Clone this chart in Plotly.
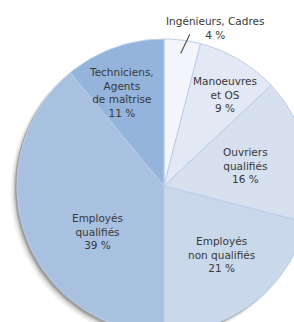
import numpy as np
import plotly.graph_objects as go

# ---- data ----
categories = ["Ingénieurs, Cadres", "Manoeuvres<br>et OS", "Ouvriers<br>qualifiés",
              "Employés<br>non qualifiés", "Employés<br>qualifiés",
              "Techniciens,<br>Agents<br>de maîtrise"]
values = [4, 9, 16, 21, 39, 11]

# ---- style ----
colors = ["#f3f5fa", "#e2e8f4", "#d7e0ee", "#cad8eb", "#a9c1e1", "#95b4dc"]
edge_color = "#bccfe8"
text_color = "#383838"
FONT = "DejaVu Sans"
W, H = 294, 322
cx, cy, R = 164, 186, 147          # pie centre / radius in pixel units of the axes
label_r = [None, 0.745, 0.57, 0.61, 0.55, 0.70]      # label distance (fraction of R)
label_dtheta = [0, 3.2, 0.0, -2.2, -14.7, -4.3]       # label angle shift (deg)

total = float(sum(values))
cum = np.concatenate([[0.0], np.cumsum(values)]) / total * 360.0   # clockwise from 12 o'clock


def pt(theta_deg, rad, x0=cx, y0=cy):
    t = np.deg2rad(theta_deg)
    return x0 + rad * np.sin(t), y0 - rad * np.cos(t)


fig = go.Figure()

# soft drop shadow (lower-left)
full = np.linspace(0, 360, 181)
for dx, dy, dr, a in [(-5, 5, 1.5, 0.06), (-4, 4, 0.5, 0.10), (-3, 3, 0, 0.16), (-2, 2, 0, 0.22)]:
    xs, ys = pt(full, R + dr, cx + dx, cy + dy)
    fig.add_trace(go.Scatter(x=xs, y=ys, mode="lines", fill="toself",
                             fillcolor=f"rgba(40,40,40,{a})", line=dict(width=0),
                             hoverinfo="skip", showlegend=False))

# slices
for i, v in enumerate(values):
    a0, a1 = cum[i], cum[i + 1]
    arc = np.linspace(a0, a1, max(3, int((a1 - a0) / 2) + 2))
    ax_, ay_ = pt(arc, R)
    xs = np.concatenate([[cx], ax_, [cx]])
    ys = np.concatenate([[cy], ay_, [cy]])
    name = categories[i].replace("<br>", " ")
    fig.add_trace(go.Scatter(x=xs, y=ys, mode="lines", fill="toself",
                             fillcolor=colors[i], line=dict(color=edge_color, width=1),
                             name=name, text=f"{name}: {v} %", hoverinfo="text",
                             hoveron="fills", showlegend=False))

# inside labels
for i, v in enumerate(values):
    if label_r[i] is None:
        continue
    mid = (cum[i] + cum[i + 1]) / 2 + label_dtheta[i]
    lx, ly = pt(mid, label_r[i] * R)
    fig.add_annotation(x=lx, y=ly, xref="x", yref="y", showarrow=False,
                       text=f"{categories[i]}<br>{v} %",
                       font=dict(family=FONT, size=10.5, color=text_color))

# outside label for the small slice, with a leader line
mid0 = (cum[0] + cum[1]) / 2
tipx, tipy = pt(mid0, 0.91 * R)
fig.add_annotation(x=tipx + 34, y=tipy - 25, xref="x", yref="y", showarrow=False,
                   text=f"{categories[0]}<br>{values[0]} %",
                   font=dict(family=FONT, size=10.5, color=text_color))
fig.add_annotation(x=tipx, y=tipy, xref="x", yref="y", text=" ", showarrow=True,
                   ax=10, ay=-21, arrowhead=0, arrowwidth=1.2, arrowcolor="#555555",
                   standoff=0, startstandoff=0, font=dict(size=1))

fig.update_xaxes(range=[0, W], visible=False, fixedrange=True)
fig.update_yaxes(range=[H, 0], visible=False, fixedrange=True)
fig.update_layout(width=W, height=H, margin=dict(l=0, r=0, t=0, b=0),
                  paper_bgcolor="white", plot_bgcolor="white", hovermode="closest")

fig.write_html("out.html", config={"displayModeBar": False},
               post_script="document.body.style.margin='0';"
                           "document.body.style.overflow='hidden';"
                           "document.documentElement.style.overflow='hidden';")
